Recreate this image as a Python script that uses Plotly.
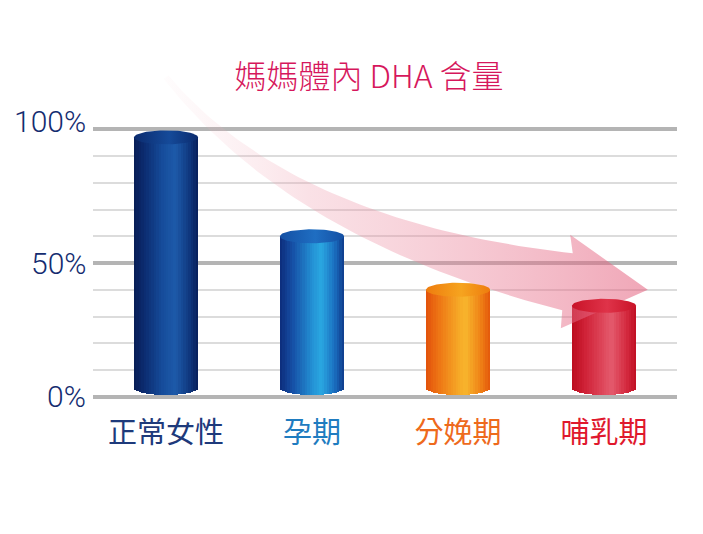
import numpy as np
import plotly.graph_objects as go

# ------------------------------
# Data
# ------------------------------
categories = ["正常女性", "孕期", "分娩期", "哺乳期"]
values = [97, 60, 40, 34]
label_colors = ["#1e3a7b", "#1f7cc0", "#ee6a1c", "#e0182d"]
y_ticks = [0, 50, 100]
y_tick_labels = ["0%", "50%", "100%"]
minor_ticks = [10, 20, 30, 40, 60, 70, 80, 90]

# cylinder shading, left edge -> right edge
body_stops = [
    [(0, "#071d55"), (0.15, "#0b2a6e"), (0.45, "#164d9c"), (0.65, "#1d5aa9"), (0.85, "#103a82"), (1, "#081f5a")],
    [(0, "#0c2c7a"), (0.2, "#1650a6"), (0.5, "#2390d4"), (0.65, "#2aa7e1"), (0.85, "#1a6ec0"), (1, "#0f3a8a")],
    [(0, "#e2500b"), (0.2, "#ee7514"), (0.5, "#f6a726"), (0.62, "#f8b52c"), (0.85, "#ef8216"), (1, "#e3560b")],
    [(0, "#bb0c1e"), (0.2, "#cf2136"), (0.5, "#df4a5e"), (0.62, "#e45a6d"), (0.85, "#d42a3f"), (1, "#bf0f22")],
]
top_stops = [
    ("#0b2b6e", "#154a99"),
    ("#1450a4", "#1f6ec2"),
    ("#ee7c0e", "#f6a41f"),
    ("#c91328", "#df3349"),
]

# ------------------------------
# Layout geometry (page body adds an 8px offset)
# ------------------------------
W, H = 703, 534
M = dict(l=85, r=34, t=62, b=138)
x_range = [-0.5, 3.5]
y_range = [-2.73, 122.2]
px_x = (W - M["l"] - M["r"]) / (x_range[1] - x_range[0])
px_y = (H - M["t"] - M["b"]) / (y_range[1] - y_range[0])

bar_w = 0.44
ry = 7 / px_y          # half height of the elliptical caps
bottom_c = 0.6 + ry    # centre of the bottom ellipse
n_strips = 26


def hex_rgb(h):
    h = h.lstrip("#")
    return np.array([int(h[i:i + 2], 16) for i in (0, 2, 4)], dtype=float)


def interp(stops, s):
    for (s0, c0), (s1, c1) in zip(stops[:-1], stops[1:]):
        if s0 <= s <= s1:
            f = (s - s0) / (s1 - s0)
            c = hex_rgb(c0) * (1 - f) + hex_rgb(c1) * f
            return "rgb(%d,%d,%d)" % tuple(np.round(c))
    return stops[-1][1]


xpos = list(range(len(categories)))
fig = go.Figure()

# ------------------------------
# Curved pink arrow (behind the bars)
# ------------------------------
p0 = np.array([0.0, values[0] + 22.5])
p1 = np.array([0.86, 62.0])
p2 = np.array([2.75, values[3] + 9.0])
tip = np.array([3.3, values[3] + 6.0])

to_px = lambda p: np.array([p[0] * px_x, p[1] * px_y])
to_dt = lambda q: np.array([q[0] / px_x, q[1] / px_y])
P0, P1, P2, TIP = to_px(p0), to_px(p1), to_px(p2), to_px(tip)

t = np.linspace(0, 1, 60)
pts = ((1 - t) ** 2)[:, None] * P0 + (2 * (1 - t) * t)[:, None] * P1 + (t ** 2)[:, None] * P2
der = (2 * (1 - t))[:, None] * (P1 - P0) + (2 * t)[:, None] * (P2 - P1)
der = der / np.linalg.norm(der, axis=1)[:, None]
nrm = np.column_stack([-der[:, 1], der[:, 0]])
hw = 3 + 26 * t ** 1.5
upper = pts + nrm * hw[:, None]
lower = pts - nrm * hw[:, None]

axis_dir = (TIP - P2) / np.linalg.norm(TIP - P2)
axis_n = np.array([-axis_dir[1], axis_dir[0]])
wing_up = P2 + axis_n * 47 - axis_dir * 2
wing_dn = P2 - axis_n * 47 - axis_dir * 2

poly = np.vstack([upper, wing_up, TIP, wing_dn, lower[::-1]])
poly = np.array([to_dt(q) for q in poly])

fig.add_trace(go.Scatter(
    x=poly[:, 0], y=poly[:, 1],
    mode="lines", line=dict(width=0, color="rgba(0,0,0,0)"),
    fill="toself",
    fillgradient=dict(
        type="horizontal",
        colorscale=[[0, "rgba(245,190,200,0.04)"], [0.3, "rgba(238,155,172,0.3)"],
                    [1, "rgba(228,95,125,0.55)"]],
    ),
    hoverinfo="skip",
))

# ------------------------------
# Cylinder bodies: thin bar strips with shading
# ------------------------------
for k in range(n_strips):
    s = (k + 0.5) / n_strips
    u = 2 * s - 1
    base = bottom_c - ry * np.sqrt(1 - u ** 2)
    fig.add_trace(go.Bar(
        x=xpos,
        y=[v - base for v in values],
        base=base,
        width=bar_w / n_strips * 1.04,
        offset=-bar_w / 2 + k * bar_w / n_strips,
        marker=dict(color=[interp(st, s) for st in body_stops], line=dict(width=0)),
        hoverinfo="skip",
    ))

# ------------------------------
# Cylinder tops: ellipses
# ------------------------------
theta = np.linspace(0, 2 * np.pi, 80)
for i, v in enumerate(values):
    edge, mid = top_stops[i]
    fig.add_trace(go.Scatter(
        x=xpos[i] + bar_w / 2 * np.cos(theta),
        y=v + ry * np.sin(theta),
        mode="lines", line=dict(width=0, color=edge),
        fill="toself",
        fillgradient=dict(type="horizontal",
                          colorscale=[[0, edge], [0.55, mid], [1, edge]]),
        hoverinfo="skip",
    ))

# ------------------------------
# Y labels
# ------------------------------
for v, lab in zip(y_ticks, y_tick_labels):
    fig.add_annotation(
        x=0, xref="paper", xanchor="right", xshift=-5,
        y=v, yref="y", yanchor="middle", yshift=8 if v == 100 else 0,
        text=lab, showarrow=False,
        font=dict(family="Roboto", weight=300, size=30, color="#142c70"),
    )

fig.update_layout(
    width=W, height=H,
    margin=M,
    barmode="overlay",
    bargap=0,
    showlegend=False,
    hovermode=False,
    plot_bgcolor="white",
    paper_bgcolor="white",
    title=dict(
        text="媽媽體內 DHA 含量",
        x=361 / W, xanchor="center", xref="container",
        y=1 - 69 / H, yanchor="middle", yref="container",
        font=dict(family="Noto Sans CJK TC", weight=300, size=32, color="#d6175c"),
    ),
    xaxis=dict(
        range=x_range,
        tickvals=xpos,
        ticktext=['<span style="color:%s">%s</span>' % (c, n)
                  for n, c in zip(categories, label_colors)],
        ticks="outside", ticklen=3, tickcolor="rgba(0,0,0,0)",
        tickfont=dict(family="Noto Sans CJK TC", size=29),
        showgrid=False, zeroline=False, showline=False,
    ),
    yaxis=dict(
        range=y_range,
        tickvals=y_ticks,
        showticklabels=False,
        showgrid=True, gridcolor="#b4b4b4", gridwidth=4,
        zeroline=False, showline=False,
        minor=dict(tickmode="array", tickvals=minor_ticks,
                   showgrid=True, gridcolor="#dcdcdc", gridwidth=2),
    ),
)

fig.write_html("out.html")
